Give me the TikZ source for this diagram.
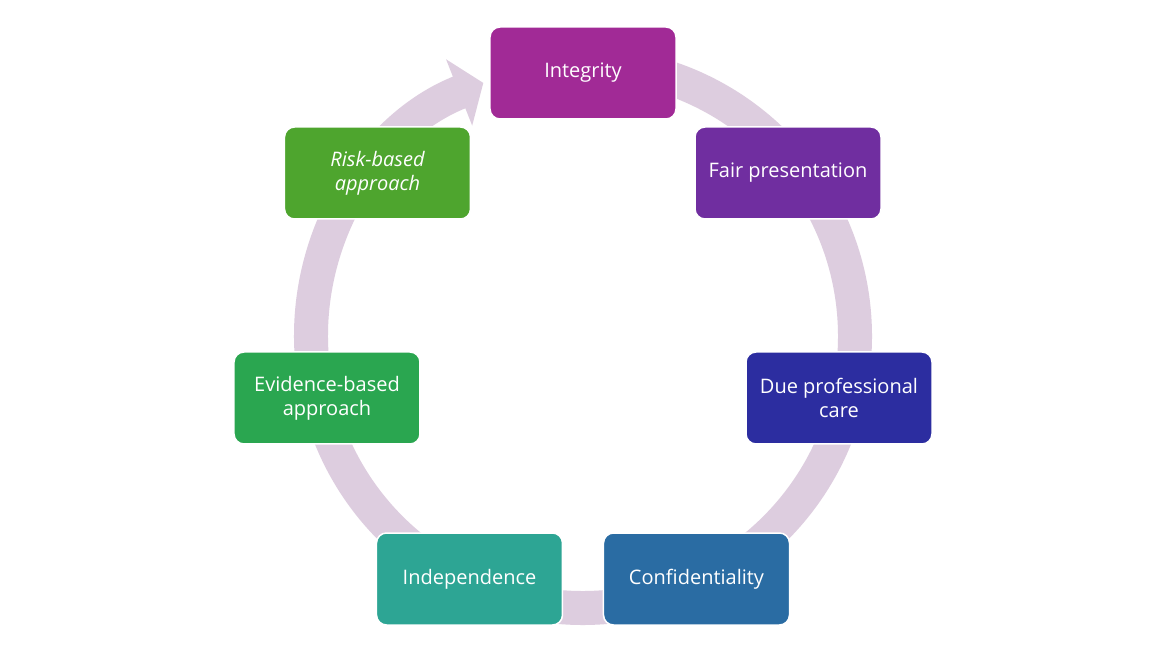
\documentclass[tikz,border=0pt]{standalone}
\usepackage{fontspec}
\setmainfont{Open Sans}
\usetikzlibrary{arrows.meta}
\definecolor{ringc}{RGB}{221,205,223}
\definecolor{integc}{RGB}{161,42,150}
\definecolor{fairc}{RGB}{112,46,160}
\definecolor{duec}{RGB}{44,45,160}
\definecolor{confc}{RGB}{42,108,163}
\definecolor{indepc}{RGB}{45,165,148}
\definecolor{evidc}{RGB}{42,166,80}
\definecolor{riskc}{RGB}{78,165,46}

\begin{document}
\begin{tikzpicture}[x=1pt,y=1pt]
\tikzstyle{every node}=[font=\fontsize{20}{24}\selectfont]
\tikzstyle{card}=[draw=white,line width=1.5pt,rounded corners=10pt,minimum width=186pt,minimum height=92pt,text=white,align=center,inner sep=0pt]
\useasboundingbox[fill=white](-583,-322) rectangle (587,336);
\draw[ringc,line width=34pt,-{Triangle[width=70pt,length=26pt]}](95:272) arc(95:-248.5:272);
\node[card,fill=integc](integ) at (0,263){Integrity};
\node[card,fill=fairc](fair) at (205,163){Fair presentation};
\node[card,fill=duec](due) at (256,-62){Due professional\\care};
\node[card,fill=confc](conf) at (113.5,-243){Confidentiality};
\node[card,fill=indepc](indep) at (-113.5,-243){Independence};
\node[card,fill=evidc](evid) at (-256,-62){Evidence-based\\approach};
\node[card,fill=riskc,font=\fontsize{20}{24}\selectfont\itshape](risk) at (-205.5,163){Risk-based\\approach};
\end{tikzpicture}
\end{document}
